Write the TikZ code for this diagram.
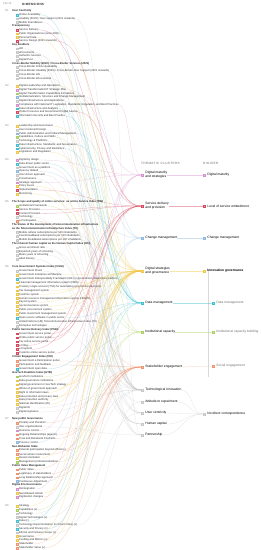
\documentclass[tikz,border=0pt]{standalone}
\usepackage{fontspec}
\setmainfont{Liberation Sans}
\usetikzlibrary{positioning,calc}
\definecolor{c-dm}{HTML}{D98FCF}
\definecolor{c-sd}{HTML}{D9485F}
\definecolor{c-cm}{HTML}{8CB9E3}
\definecolor{c-dg}{HTML}{F2C744}
\definecolor{c-da}{HTML}{3FC1D3}
\definecolor{c-ic}{HTML}{A9D15F}
\definecolor{c-se}{HTML}{F0946F}
\definecolor{c-ti}{HTML}{C8C8C8}
\definecolor{c-ae}{HTML}{C8C8C8}
\definecolor{c-uc}{HTML}{C8C8C8}
\definecolor{c-hc}{HTML}{C8C8C8}
\definecolor{c-pa}{HTML}{C8C8C8}

\begin{document}
\begin{tikzpicture}[x=1pt,y=-1pt,
lab/.style={font=\fontsize{2.7}{3.8}\selectfont,inner sep=0,anchor=west,text=black!80},
head/.style={font=\fontsize{2.7}{3.8}\selectfont\bfseries,inner sep=0,anchor=west,align=left,text=black!85},
dim/.style={font=\fontsize{2.7}{3}\selectfont,inner sep=0,text=black!45},
ldot/.style={draw=c-#1,fill=c-#1!55,line width=.2pt,minimum size=1.7pt,inner sep=0},
cdot/.style={ldot=#1,minimum size=2.3pt},
clab/.style={font=\fontsize{3.3}{3.9}\selectfont,inner sep=0,anchor=west,align=left},
capl/.style={font=\fontsize{3.1}{3.5}\selectfont\addfontfeature{LetterSpace=12},inner sep=0,anchor=west,text=black!60},
link/.style={draw=c-#1,line width=.28pt,opacity=.45,to path={let \p1=(\tikztostart),\p2=(\tikztotarget),\n1={(\x2-\x1)/2} in .. controls +(\n1,0) and +(-\n1,0) .. (\tikztotarget)}}]
\useasboundingbox[fill=white] (0,0) rectangle (261,550);

% headings
\node[dim,anchor=west] (fig) at (3,4) {FIG 15};
\node[capl,font=\fontsize{3.1}{3.5}\selectfont\bfseries\addfontfeature{LetterSpace=8},text=black!80] (dims) at (22,4) {DIMENSIONS};
\node[capl] (clu-h) at (141,163) {THEMATIC CLUSTERS};
\node[capl] (dgs-h) at (203,163) {DIGISER};

% thematic clusters
\node[cdot=dm] (dm) at (142,175) {};
\node[clab,right=2pt of dm] (dm-t) {Digital maturity\\and strategies};
\node[cdot=sd] (sd) at (142,206) {};
\node[clab,right=2pt of sd] (sd-t) {Service delivery\\and provision};
\node[cdot=cm] (cm) at (142,238) {};
\node[clab,right=2pt of cm] (cm-t) {Change management};
\node[cdot=dg] (dg) at (142,271) {};
\node[clab,right=2pt of dg] (dg-t) {Digital strategies\\and governance};
\node[cdot=da] (da) at (142,303) {};
\node[clab,right=2pt of da] (da-t) {Data management};
\node[cdot=ic] (ic) at (142,332) {};
\node[clab,right=2pt of ic] (ic-t) {Institutional capacity};
\node[cdot=se] (se) at (142,367) {};
\node[clab,right=2pt of se] (se-t) {Stakeholder engagement};
\node[cdot=ti] (ti) at (142,390) {};
\node[clab,right=2pt of ti] (ti-t) {Technological innovation};
\node[cdot=ae] (ae) at (142,402) {};
\node[clab,right=2pt of ae] (ae-t) {Attitude to experiment};
\node[cdot=uc] (uc) at (142,413) {};
\node[clab,right=2pt of uc] (uc-t) {User centricity};
\node[cdot=hc] (hc) at (142,424) {};
\node[clab,right=2pt of hc] (hc-t) {Human capital};
\node[cdot=pa] (pa) at (142,435) {};
\node[clab,right=2pt of pa] (pa-t) {Partnership};

% digiser
\node[cdot=dm] (g-dm) at (204,175) {};
\node[clab,right=2pt of g-dm] (g-dm-t) {Digital maturity};
\node[cdot=sd] (g-sd) at (204,206) {};
\node[clab,right=2pt of g-sd] (g-sd-t) {Level of service embedment};
\node[cdot=cm] (g-cm) at (204,238) {};
\node[clab,right=2pt of g-cm] (g-cm-t) {Change management};
\node[cdot=dg] (g-dg) at (204,271) {};
\node[clab,right=2pt of g-dg,font=\fontsize{3.3}{3.9}\selectfont\bfseries] (g-dg-t) {Innovation governance};
\coordinate (g-top) at (208,271);
\coordinate (g-bar) at (208,377);
\draw[black!15,line width=.35pt] (g-top) -- (g-bar);
\node[cdot=da] (g-da) at (213,303) {};
\node[clab,right=2pt of g-da,text=black!55] (g-da-t) {Data management};
\node[cdot=ic] (g-ic) at (213,332) {};
\node[clab,right=2pt of g-ic,text=black!55] (g-ic-t) {Institutional capacity building};
\node[cdot=se] (g-se) at (213,366) {};
\node[clab,right=2pt of g-se,text=black!55] (g-se-t) {Social engagement};
\node[cdot=ti] (g-nd) at (204,414) {};
\node[clab,right=2pt of g-nd] (g-nd-t) {No direct correspondence};

\draw[link=dm] (dm-t.east) -- (g-dm.west);
\draw[link=sd] (sd-t.east) -- (g-sd.west);
\draw[link=cm] (cm-t.east) -- (g-cm.west);
\draw[link=dg] (dg-t.east) -- (g-dg.west);
\draw[link=da] (da-t.east) -- (g-da.west);
\draw[link=ic] (ic-t.east) -- (g-ic.west);
\draw[link=se] (se-t.east) -- (g-se.west);
\foreach \k in {ti,ae,uc,hc,pa} \draw[link=\k] (\k-t.east) to (g-nd.west);

% D1
\node[dim] (d1) at (7,11) {D1};
\node[head] (ucen-h) at (12,11) {User Centricity};
\foreach \t/\k [count=\i] in {Online Availability/da,{Usability (2020) / User support (2021 onwards)}/uc,Mobile Friendliness/uc}{
  \node[ldot=\k] (ucen\i) at (17,{11+\i*3.75}) {};
  \node[lab,right=1pt of ucen\i] (ucen\i-t) {\t};
  \draw[link=\k] (ucen\i-t.east) to (\k.west);}
\node[head] (tran-h) at (12,26) {Transparency};
\foreach \t/\k [count=\i] in {Service Delivery/sd,{Public Organisations (since 2021)}/dg,Personal Data/dg,{Service Design (2021 onwards)}/sd}{
  \node[ldot=\k] (tran\i) at (17,{26+\i*3.75}) {};
  \node[lab,right=1pt of tran\i] (tran\i-t) {\t};
  \draw[link=\k] (tran\i-t.east) to (\k.west);}
\node[head] (kena-h) at (12,44.75) {Key Enablers};
\foreach \t/\k [count=\i] in {eID/ti,eDocuments/ti,Authentic Sources/ti,Digital Post/ti}{
  \node[ldot=\k] (kena\i) at (17,{44.75+\i*3.75}) {};
  \node[lab,right=1pt of kena\i] (kena\i-t) {\t};
  \draw[link=\k] (kena\i-t.east) to (\k.west);}
\node[head] (cbor-h) at (12,63.5) {Cross-Border Mobility (2020) / Cross-Border Services (2021)};
\foreach \t/\k [count=\i] in {Cross-Border Online Availability/pa,{Cross-Border Usability (2020) / Cross-Border User Support (2021 onwards)}/pa,Cross-Border eID/pa,Cross-Border eDocuments/pa}{
  \node[ldot=\k] (cbor\i) at (17,{63.5+\i*3.75}) {};
  \node[lab,right=1pt of cbor\i] (cbor\i-t) {\t};
  \draw[link=\k] (cbor\i-t.east) to (\k.west);}

% D2
\node[dim] (d2) at (7,86) {D2};
\foreach \t/\k [count=\i from 0] in {Digital Leadership and Operations/dg,{Digital Transformation/IT Strategic Plan}/dm,Digital Transformation Capabilities \& Enablers/ic,{Institutionalization, Structure and Change Management}/cm,Digital Infrastructure and Applications/ti,{Compliance with National IT Legislation, Standards, Regulation, and Best Practices}/dm,Data Infrastructure and Analytics/da,Online Presence and Government Digital Service/sd,Information Security and Best Practice/da}{
  \node[ldot=\k] (dtwo\i) at (17,{86+\i*3.75}) {};
  \node[lab,right=1pt of dtwo\i] (dtwo\i-t) {\t};
  \draw[link=\k] (dtwo\i-t.east) to (\k.west);}

% D3
\node[dim] (d3) at (7,126) {D3};
\foreach \t/\k [count=\i from 0] in {Leadership and Governance/dg,User-Centered Design/uc,Public Administration and Cultural Management/cm,{Capabilities, Culture and Skills}/ic,Technology \& Platforms/ti,{Data Infrastructure, Standards, and Governance}/da,{Cybersecurity, Privacy and Resilience}/da,Legislation and Regulation/dg}{
  \node[ldot=\k] (dthr\i) at (17,{126+\i*3.75}) {};
  \node[lab,right=1pt of dthr\i] (dthr\i-t) {\t};
  \draw[link=\k] (dthr\i-t.east) to (\k.west);}

% D4
\node[dim] (d4) at (7,160) {D4};
\foreach \t/\k [count=\i from 0] in {Digital by design/dm,Data-driven public sector/da,Government as a platform/ti,Open by default/cm,User-driven approach/uc,Proactiveness/ae,Strategic approach/dm,Policy levers/dg,Implementation/sd,Monitoring/dg}{
  \node[ldot=\k] (dfou\i) at (17,{160+\i*3.75}) {};
  \node[lab,right=1pt of dfou\i] (dfou\i-t) {\t};
  \draw[link=\k] (dfou\i-t.east) to (\k.west);}

% D5
\node[dim] (d5) at (7,202) {D5};
\node[head] (osi-h) at (12,202) {The Scope and quality of online services: as online Service Index (OSI)};
\foreach \t/\k [count=\i] in {Institutional Framework/ic,Service Provision/sd,Content Provision/sd,Technology/ti,e-Participation/se}{
  \node[ldot=\k] (osi\i) at (17,{202+\i*3.8}) {};
  \node[lab,right=1pt of osi\i] (osi\i-t) {\t};
  \draw[link=\k] (osi\i-t.east) to (\k.west);}
\node[head] (tii-h) at (12,226.7) {The Status of the development of telecommunication infrastructure\\as the Telecommunication Infrastructure Index (TII)};
\foreach \t/\k [count=\i] in {Mobile cellular subscriptions per 100 inhabitants/ti,Fixed broadband subscriptions per 100 inhabitants/ti,Mobile broadband subscriptions per 100 inhabitants/ti}{
  \node[ldot=\k] (tii\i) at (17,{228.6+\i*3.8}) {};
  \node[lab,right=1pt of tii\i] (tii\i-t) {\t};
  \draw[link=\k] (tii\i-t.east) to (\k.west);}
\node[head] (hci-h) at (12,243.8) {The inherent human capital as the Human Capital Index (HCI)};
\foreach \t/\k [count=\i] in {Gross enrolment ratio/hc,Expected years of schooling/hc,Mean years of schooling/hc,Adult literacy/hc}{
  \node[ldot=\k] (hci\i) at (17,{243.8+\i*3.8}) {};
  \node[lab,right=1pt of hci\i] (hci\i-t) {\t};
  \draw[link=\k] (hci\i-t.east) to (\k.west);}

% D6
\node[dim] (d6) at (7,267) {D6};
\node[head] (cgsi-h) at (12,267) {Core Government Systems Index (CGSI)};
\foreach \t/\k [count=\i] in {Government Cloud/ti,Government enterprise architecture/dg,Government Interoperability Framework (GIF) or government shared data platform/da,Financial management information system (FMIS)/dg,Treasury single account (TSA) for automating government payments/dg,Tax management system/dg,Customs system/dg,Human resource management information system (HRMIS)/dg,Payroll system/dg,Social insurance system/dg,Public procurement system/dg,Public investment management system/dg,Open-source software in public sector/da,United Nations (UN) Telecommunication Infrastructure Index (TII)/ti,Disruptive technologies/ti}{
  \node[ldot=\k] (cgsi\i) at (17,{267+\i*3.92}) {};
  \node[lab,right=1pt of cgsi\i] (cgsi\i-t) {\t};
  \draw[link=\k] (cgsi\i-t.east) to (\k.west);}
\node[head] (psdi-h) at (12,329.7) {Public Service Delivery Index (PSDI)};
\foreach \t/\k [count=\i] in {Government service portal/sd,Online public service portal/sd,Tax online service portal/sd,e-Filing/sd,e-Payment/sd,Customs online service portal/sd}{
  \node[ldot=\k] (psdi\i) at (17,{329.7+\i*3.92}) {};
  \node[lab,right=1pt of psdi\i] (psdi\i-t) {\t};
  \draw[link=\k] (psdi\i-t.east) to (\k.west);}
\node[head] (cei-h) at (12,357.1) {Citizen Engagement Index (CEI)};
\foreach \t/\k [count=\i] in {Government e-Participation portal/se,Participation and feedback/se,Government open data/da}{
  \node[ldot=\k] (cei\i) at (17,{357.1+\i*3.92}) {};
  \node[lab,right=1pt of cei\i] (cei\i-t) {\t};
  \draw[link=\k] (cei\i-t.east) to (\k.west);}
\node[head] (gtei-h) at (12,372.8) {GovTech Enablers Index (GTEI)};
\foreach \t/\k [count=\i] in {GovTech institutions/ic,Data governance institutions/dg,Digital government or GovTech strategy/dg,Whole-of-government approach/dg,Right to information laws/dg,Data protection and privacy laws/dg,Data protection authority/dg,National identification (ID)/dg,Digital ID/ti,Digital signature/ti}{
  \node[ldot=\k] (gtei\i) at (17,{372.8+\i*3.92}) {};
  \node[lab,right=1pt of gtei\i] (gtei\i-t) {\t};
  \draw[link=\k] (gtei\i-t.east) to (\k.west);}

% D7
\node[dim] (d7) at (7,419) {D7};
\node[head] (npg-h) at (12,419) {New public Governance};
\foreach \t/\k [count=\i] in {Plurality and Pluralism/se,Inter-organizational/pa,Outcome control/dm,Ongoing Relationships (agents)/se,Trust and Relational Contracts/se,Process control/cm}{
  \node[ldot=\k] (npg\i) at (17,{419+\i*3.9}) {};
  \node[lab,right=1pt of npg\i] (npg\i-t) {\t};
  \draw[link=\k] (npg\i-t.east) to (\k.west);}
\node[head] (nws-h) at (12,446.3) {Neo-Weberian State};
\foreach \t/\k [count=\i] in {External participation beyond efficiency/se,Social citizen involvement/se,Result orientation/dg,Management professionalization/ic}{
  \node[ldot=\k] (nws\i) at (17,{446.3+\i*3.9}) {};
  \node[lab,right=1pt of nws\i] (nws\i-t) {\t};
  \draw[link=\k] (nws\i-t.east) to (\k.west);}
\node[head] (pvm-h) at (12,465.8) {Public Value Management};
\foreach \t/\k [count=\i] in {Public Value/se,Legitimacy of stakeholders/se,Long Relationship approach/se,Continuous Adjustment/cm}{
  \node[ldot=\k] (pvm\i) at (17,{465.8+\i*3.9}) {};
  \node[lab,right=1pt of pvm\i] (pvm\i-t) {\t};
  \draw[link=\k] (pvm\i-t.east) to (\k.west);}
\node[head] (deg-h) at (12,485.3) {Digital Era Governance};
\foreach \t/\k [count=\i] in {Reintegration/dm,Need-Based Holism/dg,Digitization changes/dm}{
  \node[ldot=\k] (deg\i) at (17,{485.3+\i*3.9}) {};
  \node[lab,right=1pt of deg\i] (deg\i-t) {\t};
  \draw[link=\k] (deg\i-t.east) to (\k.west);}

% D8
\node[dim] (d8) at (7,506) {D8};
\foreach \t/\k [count=\i from 0] in {Strategy/dg,Capabilities (x)/ic,Technology/ti,Digital Technologies (x)/ti,Data (x)/da,Technology Experimentation (in Smart Cities) (x)/ae,Security and Privacy (x)/da,Ethical and Inclusive Scope (x)/uc,Governance/dg,Funding and Metrics (x)/dg,Stakeholder/se,Stakeholder Value (x)/se}{
  \node[ldot=\k] (deig\i) at (17,{506+\i*3.8}) {};
  \node[lab,right=1pt of deig\i] (deig\i-t) {\t};
  \draw[link=\k] (deig\i-t.east) to (\k.west);}
\end{tikzpicture}
\end{document}
